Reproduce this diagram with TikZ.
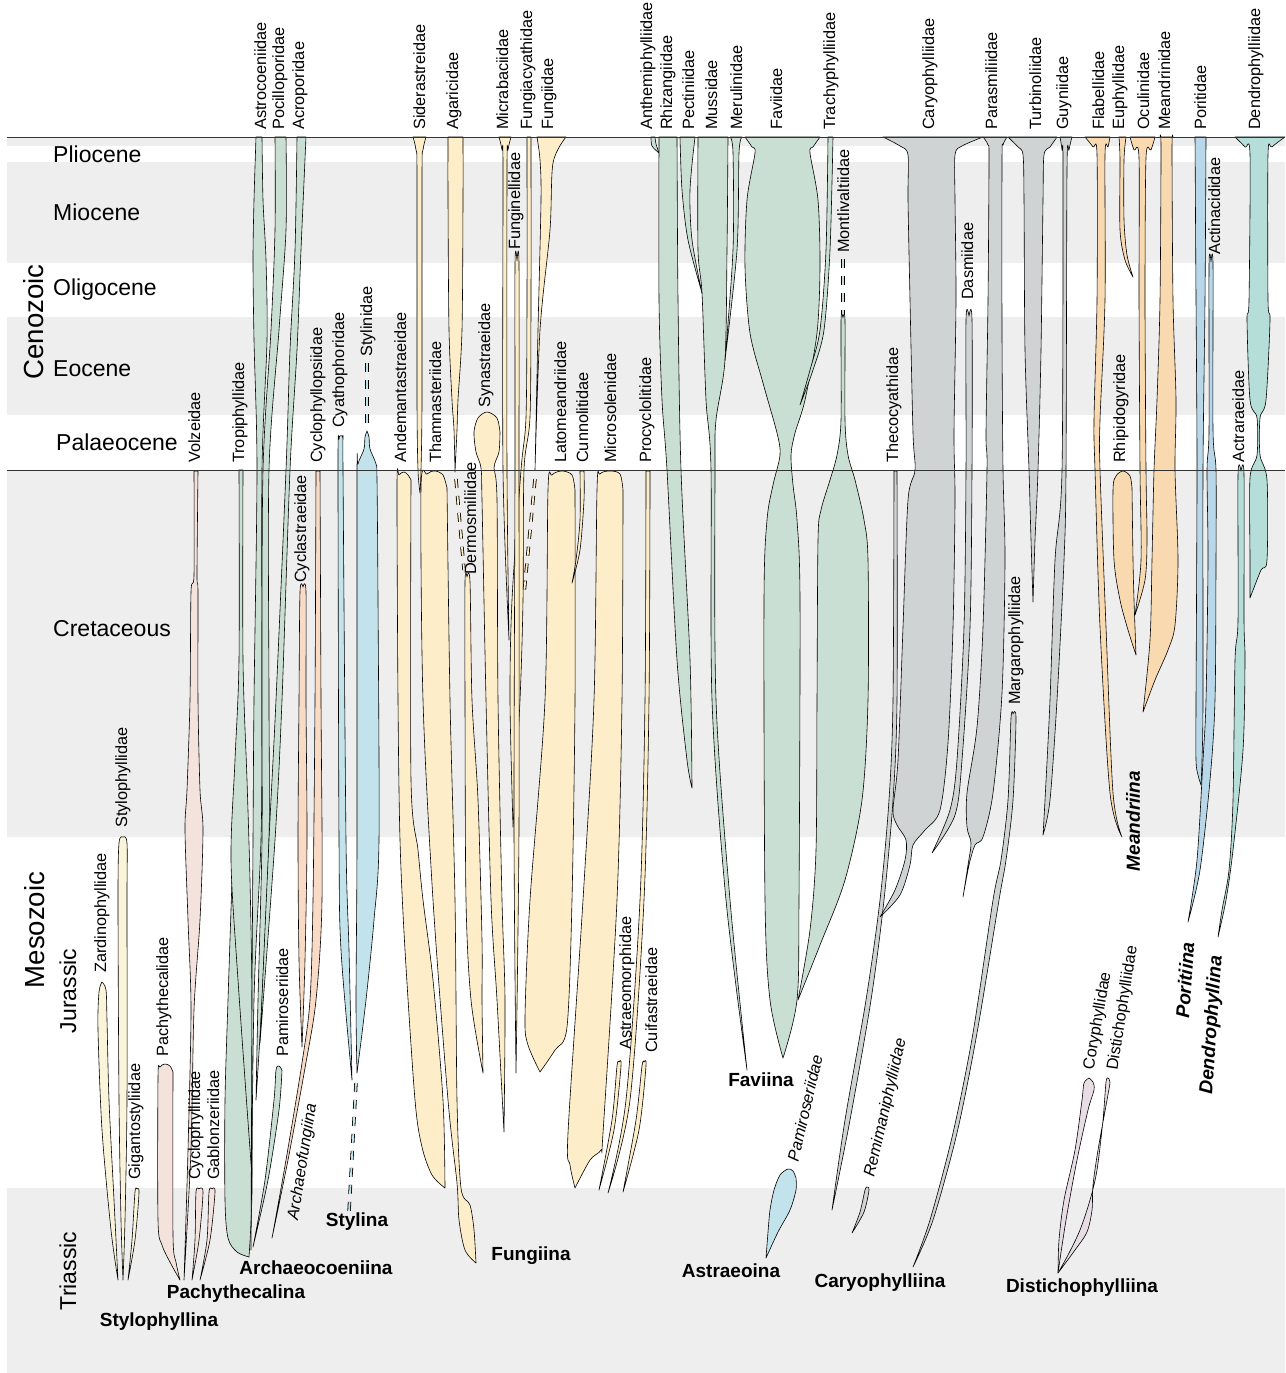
\documentclass[tikz,border=0pt]{standalone}
\usepackage{fontspec}
\setmainfont{Liberation Sans}

\definecolor{band}{HTML}{EEEEEE}
\definecolor{stylo}{HTML}{FAF5DA}
\definecolor{pachy}{HTML}{F4E2DD}
\definecolor{archgreen}{HTML}{C9DFD3}
\definecolor{salmon}{HTML}{F9DAC4}
\definecolor{stylblue}{HTML}{C3E3EC}
\definecolor{fung}{HTML}{FDEDC9}
\definecolor{cary}{HTML}{D0D3D4}
\definecolor{meand}{HTML}{F9DAB0}
\definecolor{porit}{HTML}{B8D8EA}
\definecolor{dendro}{HTML}{B4DED7}
\definecolor{distich}{HTML}{E8DDE5}

\newcommand\famfont{\fontsize{16.3}{18}\selectfont}
\newcommand\subfont{\fontsize{19}{21}\selectfont\bfseries}
\newcommand\agefont{\fontsize{23}{26}\selectfont}
\newcommand\erafont{\fontsize{27.6}{30}\selectfont}

% one lineage: left edge top->bottom, right edge bottom->top
\newcommand\clade[3]{\filldraw[lineage,#1] plot[smooth] coordinates {#2} -- plot[smooth] coordinates {#3} -- cycle;}

\tikzset{
  lineage/.style={draw=black, line width=0.6pt, line join=round},
  famtext/.style={font=\famfont, inner sep=0pt},
  fam/.style={famtext, rotate=90, anchor=base west},
  sub/.style={font=\subfont, inner sep=0pt},
  subv/.style={font=\subfont\itshape, inner sep=0pt},
  age/.style={font=\agefont, inner sep=0pt, anchor=base west},
  agev/.style={font=\agefont, inner sep=0pt, rotate=90, anchor=base},
  era/.style={font=\erafont, inner sep=0pt, rotate=90, anchor=base},
  gapline/.style={draw=black, double=#1, double distance=1.8pt, line width=0.8pt, dash pattern=on 9pt off 8pt},
  bound/.style={draw=black!80, line width=0.8pt}
}

\begin{document}
\begin{tikzpicture}[x=1pt,y=-1pt]
    \useasboundingbox (0,0) rectangle (1285,1373);
    \fill[white] (0,0) rectangle (1285,1373);

    % Time bands
    \fill[band] (7,137) rectangle (1285,146);
    \fill[band] (7,162) rectangle (1285,263);
    \fill[band] (7,317) rectangle (1285,415);
    \fill[band] (7,470) rectangle (1285,837);
    \fill[band] (7,1188) rectangle (1285,1373);

    % Stylophyllina
    \clade{fill=stylo}{(102,982)(99,992)(98,1030)(102,1130)(111,1230)(118,1280)}{(118,1280)(114,1200)(109,1100)(107,1020)(106,990)(102,982)}
    \clade{fill=stylo}{(123,837)(119,843)(118,900)(119,1100)(121,1220)(123,1280)}{(123,1280)(125,1220)(127,1100)(127,900)(127,843)(123,837)}
    \clade{fill=stylo}{(137,1189)(135,1192)(132,1240)(128,1280)}{(128,1280)(135,1240)(139,1193)(137,1189)}

    % Pachythecalina
    \clade{fill=pachy}{(194,471)(194,575)(191,592)(190,700)(187,790)(185,830)(188,920)(191,1010)(188,1150)(184,1280)}{(184,1280)(191,1150)(194,1010)(200,920)(203,830)(200,790)(198,700)(198,592)(197,575)(198,471)}
    \clade{fill=pachy}{(173,1072)(170,1066)(165,1064)(160,1067)(158,1078)(158,1220)(162,1245)(171,1264)(180,1280)}{(180,1280)(176,1262)(173,1235)(173,1072)}
    \clade{fill=pachy}{(199,1189)(196,1192)(195,1240)(192,1280)}{(192,1280)(199,1240)(203,1192)(199,1189)}
    \clade{fill=pachy}{(212,1189)(209,1192)(207,1240)(200,1280)}{(200,1280)(210,1240)(215,1192)(212,1189)}

    % Archaeocoeniina
    \clade{fill=archgreen}{(232,880)(228,1000)(225,1100)(225,1200)(228,1238)(237,1252)(249,1257)}{(249,1257)(252,1180)(246,1050)(238,950)(232,880)}
    \clade{fill=archgreen}{(239,470)(239,660)(235,760)(231,860)(238,980)(252,1177)}{(252,1177)(252,1000)(250,880)(247,780)(243,660)(243,470)}
    \clade{fill=archgreen}{(256,137)(254,200)(253,260)(254,340)(257,470)(254,700)(253,840)(252,1000)(251,1250)}{(251,1250)(254,1000)(261,840)(262,700)(262,470)(267,340)(266,260)(263,200)(262,137)}
    \clade{fill=archgreen}{(275,137)(275,230)(271,330)(263,470)(262,700)(262,840)(258,1000)(256,1100)}{(256,1100)(262,1000)(269,840)(269,700)(269,470)(279,330)(286,230)(286,137)}
    \clade{fill=archgreen}{(297,137)(295,250)(290,350)(286,470)(276,700)(269,840)(260,1043)}{(260,1043)(275,840)(282,700)(290,470)(297,350)(301,250)(306,137)}
    \clade{fill=archgreen}{(282,1070)(279,1066)(276,1070)(274,1100)(265,1180)(253,1247)}{(253,1247)(268,1180)(279,1110)(282,1070)}

    % Archaeofungiina
    \clade{fill=salmon}{(303,587)(300,592)(299,700)(298,840)(299,960)(302,1047)}{(302,1047)(305,960)(307,840)(306,700)(306,592)(303,587)}
    \clade{fill=salmon}{(316,471)(315,700)(313,900)(310,1000)(302,1063)(286,1160)(272,1238)}{(272,1238)(288,1160)(305,1068)(316,1000)(322,900)(321,700)(320,471)}

    % Stylina
    \clade{fill=stylblue}{(341,436)(339,439)(338,470)(339,840)(341,950)(352,1080)}{(352,1080)(349,950)(346,840)(343,470)(343,439)(341,436)}
    \clade{fill=stylblue}{(367,431)(365,437)(364,449)(358,464)(357,480)(357,840)(356,1000)(357,1073)}{(357,1073)(366,1000)(374,920)(379,840)(378,600)(377,480)(376,464)(370,449)(369,437)(367,431)}
    \coordinate (stylA) at (367,363);
    \coordinate (stylB) at (367,428);
    \coordinate (stylC) at (356,1083);
    \coordinate (stylD) at (349,1212);
    \draw[gapline=stylblue] (stylA) -- (stylB);
    \draw[gapline=stylblue] (stylC) -- (stylD);

    % Fungiina
    \clade{fill=fung}{(411,480)(408,475)(404,472)(399,475)(397,485)(398,700)(400,840)(405,950)(415,1100)(422,1147)(432,1175)(445,1188)}{(445,1188)(443,1100)(433,980)(423,900)(418,850)(411,780)(411,480)}
    \clade{fill=fung}{(413,137)(416,150)(417,175)(417,400)(418,470)(420,493)}{(420,493)(421,470)(422,400)(422,175)(423,150)(426,137)}
    \clade{fill=fung}{(447,488)(443,475)(435,471)(427,474)(421,488)(423,700)(433,900)(448,1100)(457,1183)(459,1220)(465,1250)(476,1263)}{(476,1263)(474,1230)(470,1205)(461,1188)(457,1100)(455,900)(450,700)(447,488)}
    \clade{fill=fung}{(448,137)(448,200)(449,330)(452,400)(454,430)(455,472)}{(455,472)(457,430)(458,400)(462,330)(463,200)(463,137)}
    \clade{fill=fung}{(467,577)(465,582)(465,700)(466,900)(471,1000)(483,1073)}{(483,1073)(482,1000)(482,940)(478,800)(472,700)(470,582)(467,577)}
    \clade{fill=fung}{(500,432)(497,418)(487,412)(478,418)(474,432)(476,452)(481,468)(482,500)(486,700)(491,900)(497,1000)(504,1132)}{(504,1132)(505,1000)(502,900)(498,700)(497,500)(494,468)(499,452)(500,432)}
    \clade{fill=fung}{(499,137)(502,150)(503,170)(503,470)(509,640)}{(509,640)(507,470)(507,170)(508,150)(511,137)}
    \clade{fill=fung}{(527,137)(527,300)(526,417)(521,470)(512,600)(510,700)(513,827)}{(513,827)(520,700)(523,600)(524,470)(530,417)(531,300)(531,137)}
    \clade{fill=fung}{(517,261)(515,265)(515,470)(514,827)(516,1073)}{(516,1073)(519,827)(519,470)(519,265)(517,261)}
    \clade{fill=fung}{(537,137)(540,160)(541,200)(538,330)(535,470)}{(535,470)(540,330)(550,230)(553,163)(566,137)}
    \clade{fill=fung}{(575,490)(572,475)(562,471)(552,475)(548,490)(545,700)(530,900)(525,1017)(528,1045)(540,1072)}{(540,1072)(555,1050)(567,1027)(572,900)(575,700)(575,490)}
    \clade{fill=fung}{(580,471)(580,520)(576,560)(572,583)}{(572,583)(580,550)(584,500)(584,471)}
    \clade{fill=fung}{(623,490)(620,474)(610,471)(600,474)(597,490)(594,700)(583,900)(568,1133)(570,1165)(575,1188)}{(575,1188)(590,1160)(601,1150)(603,1133)(617,900)(622,700)(623,490)}
    \clade{fill=fung}{(646,471)(645,700)(640,900)(626,1100)(608,1193)}{(608,1193)(630,1100)(644,900)(649,700)(650,471)}
    \clade{fill=fung}{(619,1062)(617,1066)(612,1120)(599,1190)}{(599,1190)(614,1130)(621,1066)(619,1062)}
    \clade{fill=fung}{(644,1062)(642,1066)(636,1120)(623,1192)}{(623,1192)(639,1130)(646,1066)(644,1062)}
    \coordinate (agarEnd) at (456,479);
    \coordinate (dermTop) at (464,570);
    \coordinate (fungEnd) at (535,479);
    \coordinate (fungLow) at (524,594);
    \draw[gapline=fung] (agarEnd) -- (dermTop);
    \draw[gapline=fung] (fungEnd) -- (fungLow);

    % Faviina
    \clade{fill=archgreen}{(651,137)(652,146)(659,153)}{(659,153)(656,144)(655,137)}
    \clade{fill=archgreen}{(659,137)(659,300)(662,400)(667,470)(677,660)(687,760)(692,788)}{(692,788)(690,660)(681,470)(678,300)(677,137)}
    \clade{fill=archgreen}{(698,137)(698,250)(702,293)(706,400)(711,470)(712,700)(726,900)(747,1070)}{(747,1070)(730,900)(716,700)(715,470)(716,420)(725,360)(727,250)(728,137)}
    \clade{fill=archgreen}{(680,137)(682,190)(688,240)(702,293)}{(702,293)(692,240)(690,190)(695,137)}
    \clade{fill=archgreen}{(730,137)(733,153)(733,250)(725,360)}{(725,360)(737,250)(739,153)(742,137)}
    \clade{fill=archgreen}{(745,137)(752,147)(755,153)(747,200)(745,267)(750,333)(763,383)(777,433)(780,455)(773,485)(767,520)(764,600)(765,900)(770,1000)(783,1058)}{(783,1058)(797,1000)(799,900)(800,600)(797,520)(793,485)(791,455)(795,433)(805,400)(817,333)(820,267)(818,200)(810,153)(813,147)(820,137)}
    \clade{fill=archgreen}{(828,137)(826,250)(820,330)(810,370)(800,405)}{(800,405)(813,370)(824,330)(830,250)(833,137)}
    \clade{fill=archgreen}{(843,318)(841,321)(841,420)(837,455)(830,480)(821,510)(818,540)(817,700)(816,850)(810,930)(798,1000)}{(798,1000)(820,945)(845,880)(862,800)(868,700)(868,560)(864,520)(855,480)(848,455)(845,420)(845,321)(843,318)}
    \coordinate (montA) at (843,259);
    \coordinate (montB) at (843,314);
    \draw[gapline=archgreen] (montA) -- (montB);

    % Astraeoina
    \clade{fill=stylblue}{(796,1178)(793,1171)(788,1169)(780,1175)(774,1190)(770,1210)(768,1232)(766,1258)}{(766,1258)(778,1232)(790,1210)(796,1190)(796,1178)}

    % Caryophylliina
    \clade{fill=cary}{(894,471)(893,700)(889,800)(880,900)(866,1000)(845,1120)(832,1210)}{(832,1210)(850,1120)(871,1000)(884,900)(893,800)(897,700)(897,471)}
    \clade{fill=cary}{(883,137)(900,146)(908,155)(908,200)(910,300)(913,433)(915,470)(908,500)(903,627)(898,760)(893,810)(897,825)(906,840)(905,860)(895,890)(880,917)}{(880,917)(900,895)(910,865)(913,845)(925,830)(940,810)(948,743)(953,627)(955,500)(954,433)(956,300)(955,200)(955,155)(962,146)(983,137)}
    \clade{fill=cary}{(969,316)(966,320)(966,470)(964,627)(957,760)(950,810)(932,853)}{(932,853)(955,815)(962,760)(970,627)(972,470)(972,320)(969,316)}
    \clade{fill=cary}{(983,137)(988,145)(989,160)(988,300)(986,433)(987,470)(983,627)(977,727)(967,793)(967,827)(971,843)(968,865)(963,897)}{(963,897)(969,865)(975,845)(983,837)(993,793)(1002,693)(1005,560)(1003,470)(1002,333)(1002,160)(1003,145)(1007,137)}
    \clade{fill=cary}{(1008,137)(1018,147)(1023,155)(1024,200)(1025,350)(1029,470)(1031,540)(1033,602)}{(1033,602)(1035,540)(1038,470)(1041,350)(1043,200)(1044,155)(1050,147)(1057,137)}
    \clade{fill=cary}{(1060,137)(1062,150)(1063,170)(1062,470)(1055,560)(1050,700)(1045,800)(1043,835)}{(1043,835)(1050,800)(1057,700)(1064,560)(1066,470)(1067,170)(1069,150)(1072,137)}
    \clade{fill=cary}{(1013,714)(1011,718)(1008,800)(1001,860)(993,900)(973,1033)(953,1133)(930,1220)(913,1267)}{(913,1267)(933,1220)(957,1133)(977,1033)(999,900)(1006,860)(1013,800)(1016,718)(1013,714)}
    \clade{fill=cary}{(867,1187)(865,1190)(860,1212)(852,1233)}{(852,1233)(864,1212)(869,1190)(867,1187)}

    % Meandriina
    \clade{fill=meand}{(1085,137)(1093,147)(1097,155)(1097,300)(1094,420)(1095,470)(1100,627)(1110,793)(1122,837)}{(1122,837)(1113,793)(1106,627)(1100,470)(1100,420)(1105,300)(1105,155)(1108,147)(1110,137)}
    \clade{fill=meand}{(1119,137)(1120,160)(1120,230)(1125,260)(1133,277)}{(1133,277)(1127,255)(1124,220)(1124,160)(1126,137)}
    \clade{fill=meand}{(1130,137)(1134,150)(1139,158)(1139,300)(1140,470)(1141,560)(1135,615)}{(1135,615)(1145,580)(1147,540)(1146,470)(1145,300)(1146,158)(1151,150)(1155,137)}
    \clade{fill=meand}{(1132,488)(1130,476)(1123,471)(1116,476)(1113,490)(1114,560)(1120,600)(1128,630)(1136,655)}{(1136,655)(1134,600)(1133,560)(1132,488)}
    \clade{fill=meand}{(1160,137)(1161,150)(1160,300)(1157,400)(1154,470)(1152,560)(1150,640)(1143,712)}{(1143,712)(1155,680)(1168,650)(1175,625)(1178,560)(1175,470)(1176,400)(1173,300)(1172,150)(1173,137)}

    % Poritiina
    \clade{fill=porit}{(1195,137)(1196,300)(1197,470)(1196,700)(1196,760)(1198,775)(1201,785)}{(1201,785)(1202,760)(1203,700)(1203,470)(1205,300)(1206,137)}
    \clade{fill=porit}{(1211,262)(1209,265)(1209,430)(1207,470)(1208,560)(1206,700)(1203,760)(1197,860)(1188,922)}{(1188,922)(1200,870)(1210,780)(1215,700)(1216,560)(1216,470)(1213,430)(1213,265)(1211,262)}

    % Dendrophyllina
    \clade{fill=dendro}{(1235,137)(1245,147)(1250,155)(1249,300)(1247,320)(1250,400)(1257,418)(1257,455)(1250,478)(1250,560)(1250,598)}{(1250,598)(1261,570)(1267,560)(1267,480)(1260,455)(1260,418)(1266,400)(1270,320)(1268,300)(1268,155)(1272,147)(1285,137)}
    \clade{fill=dendro}{(1241,471)(1238,475)(1238,620)(1235,660)(1233,800)(1229,870)(1222,910)(1218,937)}{(1218,937)(1226,900)(1233,850)(1243,750)(1245,660)(1244,620)(1244,475)(1241,471)}

    % Distichophylliina
    \clade{fill=distich}{(1089,1078)(1084,1083)(1082,1100)(1075,1150)(1064,1200)(1059,1240)(1058,1273)}{(1058,1273)(1066,1220)(1077,1160)(1088,1110)(1094,1090)(1093,1082)(1089,1078)}
    \clade{fill=distich}{(1108,1078)(1106,1082)(1103,1120)(1097,1170)(1090,1200)(1080,1230)(1068,1255)(1058,1273)}{(1058,1273)(1075,1250)(1087,1232)(1092,1210)(1093,1185)(1098,1150)(1107,1100)(1110,1082)(1108,1078)}

    % Boundary lines
    \draw[bound] (7,137) -- (1285,137);
    \draw[bound] (7,470) -- (1285,470);

    % Ages and eras
    \node[age] (pliocene) at (53,162.5) {Pliocene};
    \node[age] (miocene) at (53,220) {Miocene};
    \node[age] (oligocene) at (53,295) {Oligocene};
    \node[age] (eocene) at (53,376) {Eocene};
    \node[age] (palaeocene) at (56,450) {Palaeocene};
    \node[age] (cretaceous) at (53,636) {Cretaceous};
    \node[agev] (jurassic) at (76,991) {Jurassic};
    \node[agev] (triassic) at (76,1271) {Triassic};
    \node[era] (cenozoic) at (43,322) {Cenozoic};
    \node[era] (mesozoic) at (44,930) {Mesozoic};

    % Extant families
    \node[fam] (astrocoeniidae) at (266,130) {Astrocoeniidae};
    \node[fam] (pocilloporidae) at (284,130) {Pocilloporidae};
    \node[fam] (acroporidae) at (304,130) {Acroporidae};
    \node[fam] (siderastreidae) at (425,130) {Siderastreidae};
    \node[fam] (agaricidae) at (458,130) {Agaricidae};
    \node[fam] (micrabaciidae) at (508,130) {Micrabaciidae};
    \node[fam] (fungiacyathidae) at (532,130) {Fungiacyathidae};
    \node[fam] (fungiidae) at (553,130) {Fungiidae};
    \node[fam] (anthemiphylliidae) at (652,130) {Anthemiphylliidae};
    \node[fam] (rhizangiidae) at (672,130) {Rhizangiidae};
    \node[fam] (pectiniidae) at (694,130) {Pectiniidae};
    \node[fam] (mussidae) at (717,130) {Mussidae};
    \node[fam] (merulinidae) at (742,130) {Merulinidae};
    \node[fam] (faviidae) at (782,130) {Faviidae};
    \node[fam] (trachyphylliidae) at (835,130) {Trachyphylliidae};
    \node[fam] (caryophylliidae) at (934,130) {Caryophylliidae};
    \node[fam] (parasmiliidae) at (997,130) {Parasmiliidae};
    \node[fam] (turbinoliidae) at (1041,130) {Turbinoliidae};
    \node[fam] (guyniidae) at (1068,130) {Guyniidae};
    \node[fam] (flabellidae) at (1104,130) {Flabellidae};
    \node[fam] (euphyllidae) at (1124,130) {Euphyllidae};
    \node[fam] (oculinidae) at (1149,130) {Oculinidae};
    \node[fam] (meandrinidae) at (1170,130) {Meandrinidae};
    \node[fam] (poritidae) at (1206,130) {Poritidae};
    \node[fam] (dendrophylliidae) at (1260,130) {Dendrophylliidae};

    % Extinct families
    \node[fam] (volzeidae) at (200,463) {Volzeidae};
    \node[fam] (tropiphyllidae) at (244,463) {Tropiphyllidae};
    \node[fam] (cyclophyllopsiidae) at (322,463) {Cyclophyllopsiidae};
    \node[fam] (cyathophoridae) at (344,428) {Cyathophoridae};
    \node[fam] (stylinidae) at (372,357) {Stylinidae};
    \node[fam] (andemantastraeidae) at (406,463) {Andemantastraeidae};
    \node[fam] (thamnasteriidae) at (441,463) {Thamnasteriidae};
    \node[fam] (synastraeidae) at (490,408) {Synastraeidae};
    \node[fam] (funginellidae) at (520,250) {Funginellidae};
    \node[fam] (latomeandriidae) at (566,463) {Latomeandriidae};
    \node[fam] (cunnolitidae) at (588,463) {Cunnolitidae};
    \node[fam] (microsolenidae) at (616,463) {Microsolenidae};
    \node[fam] (procyclolitidae) at (651,463) {Procyclolitidae};
    \node[fam] (montlivaltiidae) at (849,253) {Montlivaltiidae};
    \node[fam] (dasmiidae) at (973,300) {Dasmiidae};
    \node[fam] (thecocyathidae) at (898,463) {Thecocyathidae};
    \node[fam] (rhipidogyridae) at (1125,463) {Rhipidogyridae};
    \node[fam] (actinacididae) at (1220,255) {Actinacididae};
    \node[fam] (actraraeidae) at (1244,463) {Actraraeidae};
    \node[fam] (cyclastraeidae) at (306,583) {Cyclastraeidae};
    \node[fam] (dermosmiliidae) at (476,575) {Dermosmiliidae};
    \node[fam] (margarophylliidae) at (1020,705) {Margarophylliidae};
    \node[fam] (stylophyllidae) at (127,828) {Stylophyllidae};
    \node[fam] (zardinophyllidae) at (106,973) {Zardinophyllidae};
    \node[fam] (pachythecalidae) at (168,1057) {Pachythecalidae};
    \node[fam] (gigantostyliidae) at (140,1180) {Gigantostyliidae};
    \node[fam] (cyclophylliidae) at (200,1180) {Cyclophylliidae};
    \node[fam] (gablonzeriidae) at (219,1180) {Gablonzeriidae};
    \node[fam] (pamiroseriidaeA) at (288,1057) {Pamiroseriidae};
    \node[fam] (astraeomorphidae) at (631,1050) {Astraeomorphidae};
    \node[fam] (cuifastraeidae) at (657,1053) {Cuifastraeidae};

    % Tilted labels
    \node[famtext, font=\famfont\itshape, rotate=81] (archaeofungiina) at (303,1162) {Archaeofungiina};
    \node[famtext, font=\famfont\itshape, rotate=77] (pamiroseriidaeB) at (805,1108) {Pamiroseriidae};
    \node[famtext, font=\famfont\itshape, rotate=77] (remimaniphylliidae) at (886,1108) {Remimaniphylliidae};
    \node[famtext, rotate=80] (coryphyllidae) at (1098,1021) {Coryphyllidae};
    \node[famtext, rotate=81] (distichophylliidae) at (1123,1008) {Distichophylliidae};

    % Suborders
    \node[sub] (stylophyllina) at (159,1322) {Stylophyllina};
    \node[sub] (pachythecalina) at (236,1294) {Pachythecalina};
    \node[sub] (archaeocoeniina) at (316,1268) {Archaeocoeniina};
    \node[sub] (stylina) at (357,1222) {Stylina};
    \node[sub] (fungiina) at (531,1256) {Fungiina};
    \node[sub] (faviina) at (761,1080) {Faviina};
    \node[sub] (astraeoina) at (731,1271) {Astraeoina};
    \node[sub] (caryophylliina) at (880,1283) {Caryophylliina};
    \node[sub] (distichophylliina) at (1082,1288) {Distichophylliina};
    \node[subv, rotate=90] (meandriina) at (1133,821) {Meandriina};
    \node[subv, rotate=86] (poritiina) at (1185,980) {Poritiina};
    \node[subv, rotate=86] (dendrophyllina) at (1212,1025) {Dendrophyllina};
\end{tikzpicture}
\end{document}
